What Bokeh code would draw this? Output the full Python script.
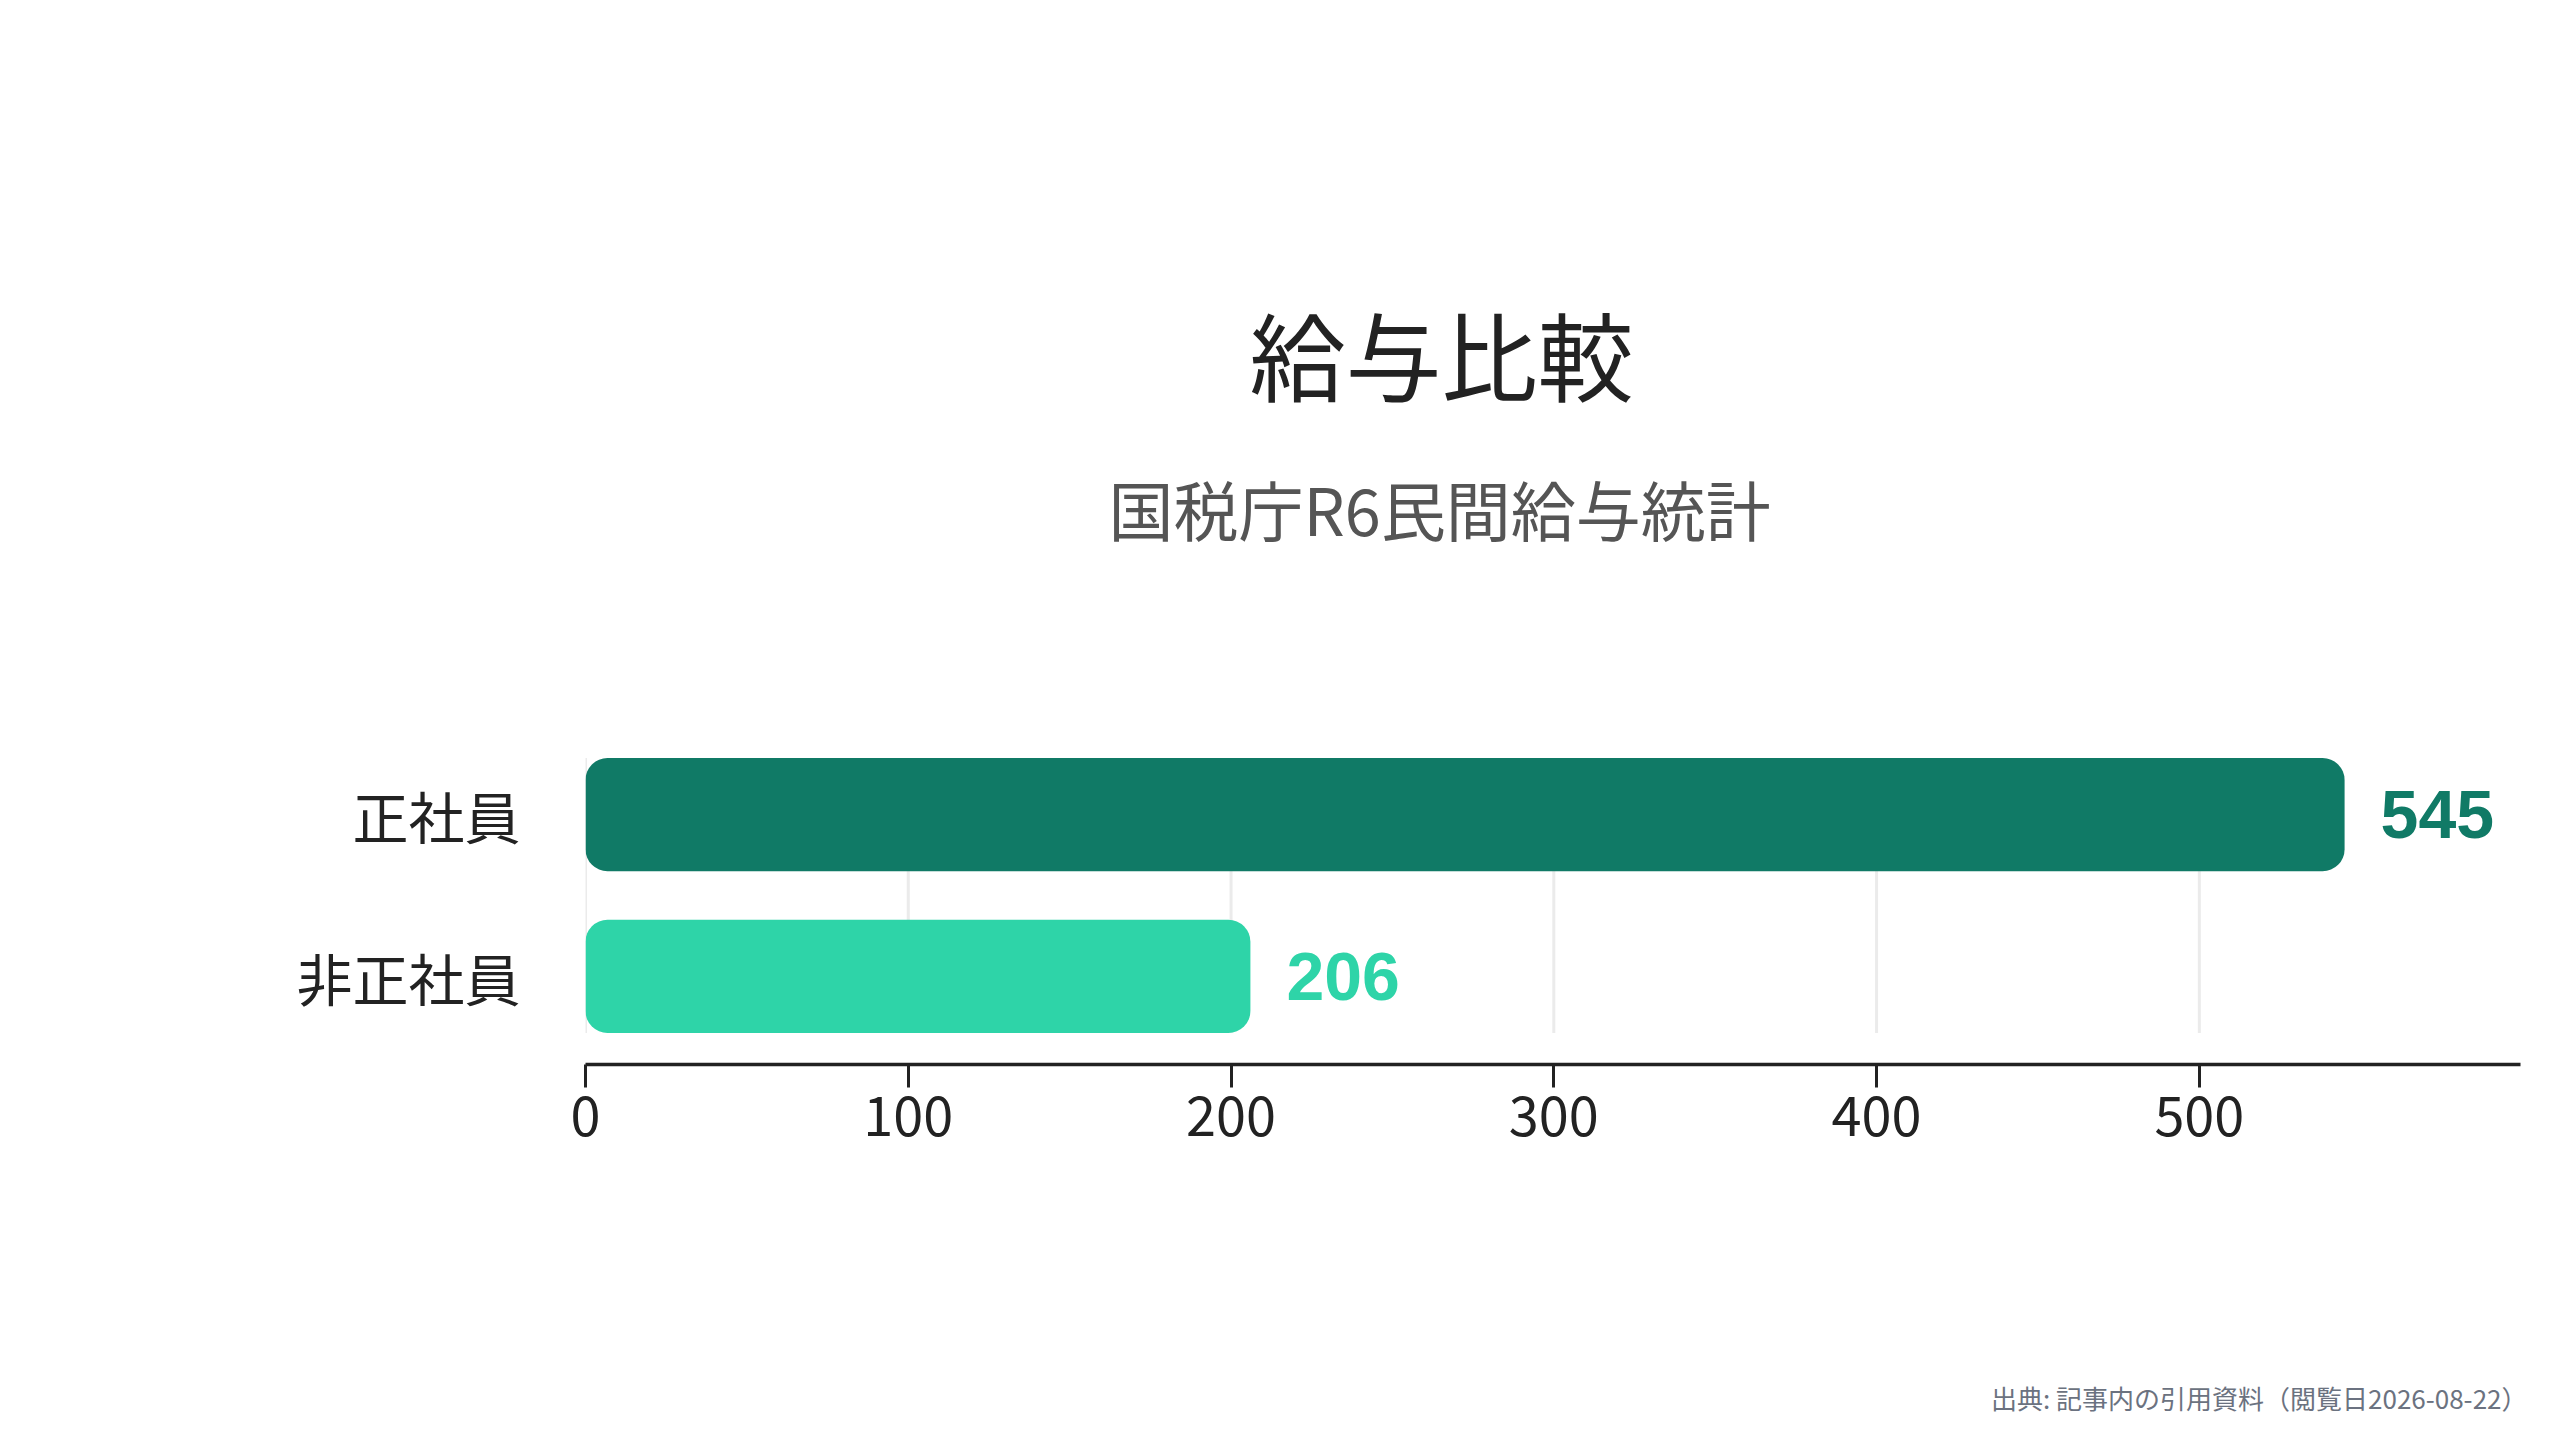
from bokeh.plotting import figure
from bokeh.models import Range1d, FixedTicker, Title, ColumnDataSource
from bokeh.core.properties import value
from bokeh.embed import file_html
from bokeh.resources import INLINE

# ---- data ----
categories = ["正社員", "非正社員"]
salaries = [545, 206]
bar_colors = ["#107a66", "#2ed4a8"]
x_ticks = [0, 100, 200, 300, 400, 500]
title_text = "給与比較"
subtitle_text = "国税庁R6民間給与統計"
footer_text = "出典: 記事内の引用資料（閲覧日2026-08-22）"

CJK = "Noto Sans CJK JP"
n = len(categories)
ypos = [n - 1 - i for i in range(n)]
bar_h = 0.7
x_max = max(salaries) * 1.1

src = ColumnDataSource(dict(
    y=ypos, v=salaries, c=bar_colors, lab=[str(s) for s in salaries], cat=categories,
))

W, H = 2544, 1424
p = figure(width=W, height=H, output_backend="svg", toolbar_location=None,
           x_range=Range1d(0, x_max), y_range=Range1d(-0.545, n - 1 + 0.545),
           min_border_left=585, min_border_right=24, min_border_top=726,
           min_border_bottom=360)
p.outline_line_color = None
p.background_fill_color = "white"
p.border_fill_color = "white"
p.xgrid.visible = False
p.ygrid.visible = False

# grid lines limited to band extent
grid_src = ColumnDataSource(dict(
    x=x_ticks,
    y0=[min(ypos) - bar_h / 2] * len(x_ticks),
    y1=[max(ypos) + bar_h / 2] * len(x_ticks),
))
p.segment(x0="x", x1="x", y0="y0", y1="y1", source=grid_src,
          line_color="#ebebeb", line_width=3)

p.hbar(y="y", left=0, right="v", height=bar_h, fill_color="c", line_color=None,
       source=src, border_radius=22)

p.text(x="v", y="y", text="lab", text_color="c", source=src, x_offset=36,
       text_baseline="middle", text_align="left",
       text_font=value("Liberation Sans"), text_font_style="bold",
       text_font_size="68px")

# x axis
xa = p.xaxis[0]
xa.ticker = FixedTicker(ticks=x_ticks)
xa.axis_line_color = "#222222"
xa.axis_line_width = 3.5
xa.major_tick_line_color = "#222222"
xa.major_tick_line_width = 3
xa.major_tick_in = 0
xa.major_tick_out = 23
xa.minor_tick_line_color = None
xa.major_label_text_font = CJK
xa.major_label_text_font_size = "54px"
xa.major_label_text_color = "#222222"
xa.major_label_standoff = 8

# y axis
ya = p.yaxis[0]
ya.ticker = FixedTicker(ticks=ypos)
ya.major_label_overrides = {yv: c for yv, c in zip(ypos, categories)}
ya.axis_line_color = None
ya.major_tick_line_color = None
ya.minor_tick_line_color = None
ya.major_tick_in = 0
ya.major_tick_out = 0
ya.major_label_text_font = CJK
ya.major_label_text_font_size = "56px"
ya.major_label_text_color = "#222222"
ya.major_label_standoff = 65

# panels above: spacer (closest to frame), subtitle, title
p.add_layout(Title(text=" ", text_font=CJK, text_font_size="10px",
                   standoff=150), "above")
p.add_layout(Title(text=subtitle_text, text_font=CJK, text_font_size="65px",
                   text_font_style="normal", text_color="#555555",
                   align="left", offset=523, standoff=10), "above")
p.add_layout(Title(text=title_text, text_font=CJK, text_font_size="96px",
                   text_font_style="normal", text_color="#222222",
                   align="left", offset=664, standoff=63), "above")
# panels below: spacer then footer
p.add_layout(Title(text=" ", text_font=CJK, text_font_size="10px",
                   standoff=221), "below")
p.add_layout(Title(text=footer_text, text_font=CJK, text_font_size="26px",
                   text_font_style="normal", text_color="#6b7280",
                   align="right", offset=-7, vertical_align="bottom",
                   standoff=0), "below")

open("out.html", "w").write(file_html(p, INLINE))
